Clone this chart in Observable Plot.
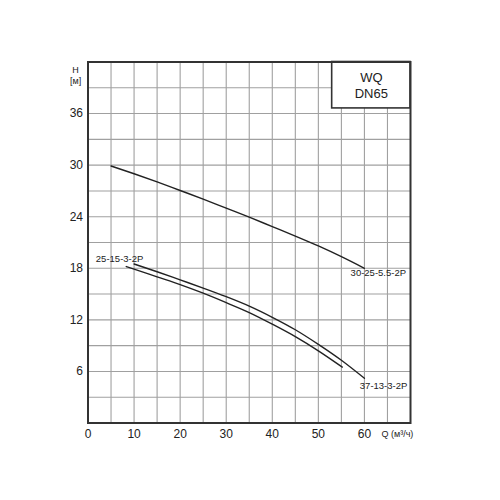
<!DOCTYPE html>
<html>
<head>
<meta charset="utf-8">
<script src="https://cdn.jsdelivr.net/npm/d3@7"></script>
<script src="https://cdn.jsdelivr.net/npm/@observablehq/plot@0.6"></script>
<style>
  html, body { margin: 0; padding: 0; background: #fff; }
</style>
</head>
<body>
<div id="chart"></div>
<script>
// Curve 30-25-5.5-2P
const qTop = [5, 10, 15, 20, 25, 30, 35, 40, 45, 50, 55, 60];
const hTop = [29.9, 29.0, 28.05, 27.05, 26.05, 25.0, 23.95, 22.85, 21.75, 20.6, 19.35, 18.0];
// Upper line of the pair
const qA = [10, 15, 20, 25, 30, 35, 40, 45, 50, 55, 60];
const hA = [18.5, 17.6, 16.65, 15.7, 14.7, 13.6, 12.3, 10.85, 9.15, 7.3, 5.2];
// Lower line of the pair
const qB = [8.3, 10, 15, 20, 25, 30, 35, 40, 45, 50, 55.2];
const hB = [18.2, 17.9, 17.0, 16.1, 15.1, 14.0, 12.85, 11.5, 10.05, 8.4, 6.5];

const curveLabels = ["25-15-3-2P", "30-25-5.5-2P", "37-13-3-2P"];
const labelQ = [1.7, 57, 59];
const labelH = [19.1, 17.4, 4.3];

const xTicks = [0, 10, 20, 30, 40, 50, 60];
const yTicks = [6, 12, 18, 24, 30, 36];
const xGrid = d3.range(5, 70, 5);
const yGrid = d3.range(3, 42, 3);

const boxLines = ["WQ", "DN65"];
const boxH = [40.2, 38.3];

const toPts = (q, h) => q.map((v, i) => ({q: v, h: h[i]}));

const chart = Plot.plot({
  width: 500,
  height: 500,
  marginLeft: 87.5,
  marginRight: 90,
  marginTop: 61.5,
  marginBottom: 77.5,
  style: {fontFamily: "'Liberation Sans', Arial, sans-serif", background: "#fff", color: "#222"},
  x: {domain: [0, 70]},
  y: {domain: [0, 42]},
  marks: [
    Plot.ruleX(xGrid, {stroke: "#a0a0a0", strokeWidth: 1.1}),
    Plot.ruleY(yGrid, {stroke: "#a0a0a0", strokeWidth: 1.1}),
    Plot.rect([{x1: 53, x2: 70, y1: 36.6, y2: 42}], {x1: "x1", x2: "x2", y1: "y1", y2: "y2", fill: "#fff", stroke: "#333", strokeWidth: 1.6}),
    Plot.text(boxLines, {x: 61.5, y: (d, i) => boxH[i], text: d => d, fontSize: 13, fill: "#222"}),
    Plot.line(toPts(qTop, hTop), {x: "q", y: "h", stroke: "#222", strokeWidth: 1.4, curve: "monotone-x"}),
    Plot.line(toPts(qA, hA), {x: "q", y: "h", stroke: "#222", strokeWidth: 1.4, curve: "monotone-x"}),
    Plot.line(toPts(qB, hB), {x: "q", y: "h", stroke: "#222", strokeWidth: 1.4, curve: "monotone-x"}),
    Plot.text(curveLabels, {x: (d, i) => labelQ[i], y: (d, i) => labelH[i], text: d => d, textAnchor: "start", fontSize: 9.5, fill: "#222"}),
    Plot.frame({stroke: "#333", strokeWidth: 2}),
    Plot.axisX(xTicks, {tickSize: 0, tickPadding: 6, fontSize: 12, fill: "#222"}),
    Plot.axisY(yTicks, {tickSize: 0, tickPadding: 5, fontSize: 12, fill: "#222"}),
    Plot.text(["H", "[м]"], {x: -2.7, y: (d, i) => [41.1, 39.8][i], text: d => d, fontSize: 9, fill: "#222"}),
    Plot.text(["Q (м³/ч)"], {x: 63.7, y: -1.3, text: d => d, textAnchor: "start", fontSize: 9, fill: "#222"})
  ]
});
document.getElementById("chart").appendChild(chart);
</script>
</body>
</html>
